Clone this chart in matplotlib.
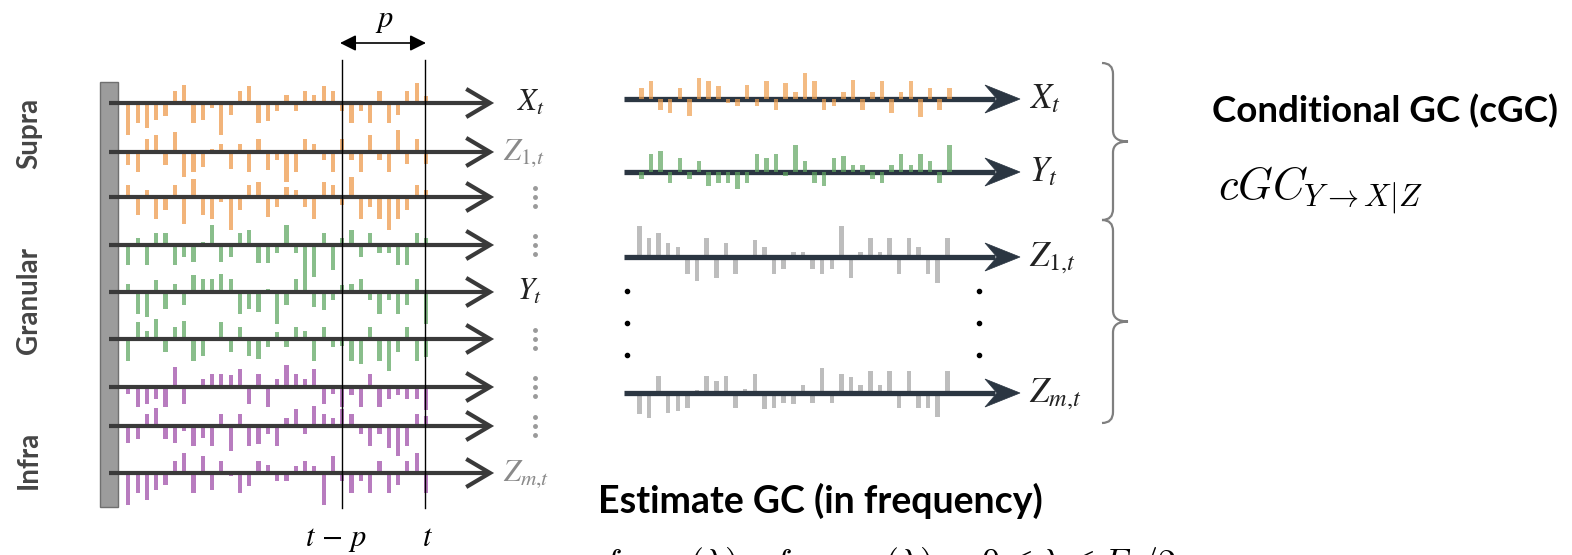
import numpy as np
import matplotlib.pyplot as plt
from matplotlib.path import Path
from matplotlib.patches import PathPatch, Rectangle, Polygon

# bar amplitudes for the laminar recordings (up = positive)
supra_x = [-95, -60, -75, -50, -40, 35, 55, -60, -50, -15, -95, -35, 35, 50, -60, -55, -25,
           25, -25, 35, 25, 50, 35, -25, -60, -25, -60, 35, -60, -35, 35, 60, 20]
supra_z1 = [-40, -60, 40, 50, -40, 60, -75, -60, -45, 10, 25, -50, 25, -60, 40, -55, -25,
            -90, -60, 40, 25, -25, -60, 40, -25, -60, 50, -25, -60, 65, -35, 40, -35]
supra_z2 = [35, -55, 20, -65, -40, 35, -80, 55, -55, -65, -15, -100, -40, 35, 45, -60, -30,
            30, 20, -30, -65, 45, 35, -25, 60, -65, -30, -65, -100, -65, -40, 35, 20]
gran_z3 = [-60, 20, -60, 35, 35, -60, -35, -50, 10, 60, -50, -35, 35, 45, -55, -55, -25,
           60, -25, -90, -95, 35, -75, 20, 45, -35, 35, -25, -25, -60, -60, 35, 20]
gran_y = [25, -65, -75, 35, -50, 25, -40, 50, 40, 40, 55, 40, -65, -50, -60, 10, -95,
          -40, 40, 55, -45, -55, -25, 20, 25, 40, -25, -65, -25, -65, -40, 40, -95]
gran_z4 = [-65, 50, 25, 60, -40, 35, 55, -65, -50, 5, 50, -40, 35, -50, -60, -25, 20,
           -25, 35, 25, -65, 35, -25, -20, -65, -75, 35, -65, -95, -40, 35, -65, -55]
infra_z5 = [-20, -60, -50, -35, -60, 60, -50, -5, 25, 40, 40, 35, 55, -50, 40, -60, 25,
            65, 40, 25, 55, -50, -20, -60, -25, -60, 40, -60, -35, -25, -35, -35, -70]
infra_z6 = [-50, -40, 35, 55, -40, -50, -15, -60, -35, -60, 35, -75, 35, -60, -55, -25, -60,
            25, 50, -25, 60, 35, 25, 50, 35, -25, -60, -25, -65, -90, -60, 35, 30]
infra_zm = [-95, -60, -80, -50, -35, 35, 60, -60, 50, -50, 35, -10, -60, -40, 35, 25, -25,
            -25, 20, 35, 20, -95, 50, -25, -60, -25, -60, 35, -60, -35, 35, 60, -60]

# the selected channels
sel_x = [33, 54, -33, -42, 33, -51, 63, 54, 39, -12, -21, 42, -21, 54, -33, 48, 21,
         78, 54, -33, -21, 21, 57, -33, 21, 54, -42, 21, 54, -54, 33, -33, 33]
sel_y = [-21, 54, 63, -33, 42, -21, 33, -42, -33, -33, -51, -33, 54, 42, 54, -12, 81,
         33, -33, -42, 42, 48, 21, 21, -21, -33, 21, 54, 21, 54, 33, -33, 81]
sel_z1 = [93, 57, 72, 42, 30, -51, -72, 57, -63, 42, -51, 0, 51, 30, -51, -36, 15,
          15, -36, -51, -36, 93, -63, 15, 57, 15, 57, -51, 57, 30, -51, -78, 57]
sel_zm = [-63, -75, 51, -60, -54, -45, 9, 51, 36, 51, -45, 12, 57, -48, -45, -30, -33,
          24, -30, 75, -30, 57, 48, 24, 66, 24, 66, -45, 66, -45, -45, -72, 66]

layer_names = ['Supra', 'Granular', 'Infra']
left_labels = [r'$X_t$', r'$Z_{1{,}t}$', None, None, r'$Y_t$', None, None, None, r'$Z_{m{,}t}$']
mid_labels = [r'$X_t$', r'$Y_t$', r'$Z_{1{,}t}$', r'$Z_{m{,}t}$']

W, H = 1572, 555
fig = plt.figure(figsize=(W / 100, H / 100), dpi=100)
ax = fig.add_axes([0, 0, 1, 1])
ax.set_xlim(0, W)
ax.set_ylim(H, 0)
ax.axis('off')

ORANGE, GREEN, PURPLE = '#F2B47A', '#89BE8B', '#B87CBF'
DARK = '#3A3A3A'
NAVY = '#2B3642'
scale = 1 / 3

# ---- left panel: all channels -------------------------------------------
ax.add_patch(Rectangle((100, 82), 18, 425, facecolor='#9C9C9C', edgecolor='#707070', lw=1, zorder=1))

left_series = [supra_x, supra_z1, supra_z2, gran_z3, gran_y, gran_z4, infra_z5, infra_z6, infra_zm]
left_colors = [ORANGE] * 3 + [GREEN] * 3 + [PURPLE] * 3
rows = [103, 152, 197, 245, 292, 339, 387, 426, 473]

for i, (vals, y, col) in enumerate(zip(left_series, rows, left_colors)):
    xs = 128.3 + 9.3 * np.arange(len(vals))
    ax.bar(xs, -np.array(vals) * scale, bottom=y, width=4.2, color=col, zorder=2)
    ax.plot([109, 488], [y, y], color=DARK, lw=3, zorder=3, solid_capstyle='butt')
    ax.plot([468, 490, 468], [y - 13, y, y + 13], color=DARK, lw=3, zorder=3,
            solid_joinstyle='miter')
    lab = left_labels[i]
    if lab is None:
        ax.plot([535] * 3, [y - 9, y, y + 9], 'o', color='#9A9A9A', ms=2.5, zorder=3)
    else:
        strong = lab in (r'$X_t$', r'$Y_t$')
        ax.text(517 if strong else 503, y + 8, lab, fontsize=22,
                color='#222222' if strong else '#8A8A8A',
                va='baseline', ha='left', math_fontfamily='stix')

for yc, name in zip([133, 300, 460], layer_names):
    ax.text(29, yc, name, rotation=90, fontfamily='Lato', fontweight='bold', fontsize=20,
            color='#454545', ha='center', va='center')

# lag window
for xv in (342, 425):
    ax.plot([xv, xv], [60, 508], color='black', lw=1, zorder=4)
ax.annotate('', xy=(340, 43), xytext=(426, 43),
            arrowprops=dict(arrowstyle='<|-|>', color='black', lw=1.2, mutation_scale=24,
                            shrinkA=0, shrinkB=0))
ax.text(384, 27, r'$p$', fontsize=22, ha='center', va='baseline', math_fontfamily='stix')
ax.text(336, 546, r'$t\,-\,p$', fontsize=22, ha='center', va='baseline', math_fontfamily='stix')
ax.text(428, 546, r'$t$', fontsize=22, ha='center', va='baseline', math_fontfamily='stix')

# ---- middle panel: selected channels -------------------------------------
mid_series = [sel_x, sel_y, sel_z1, sel_zm]
mid_rows = [99, 172, 257, 393]
mid_colors = ['#EF9F4F', '#5FA55F', '#BDBDBD', '#BDBDBD']

for i, (vals, y, col) in enumerate(zip(mid_series, mid_rows, mid_colors)):
    x0 = 641.3 if i < 2 else 639.3
    xs = x0 + 9.625 * np.arange(len(vals))
    ax.plot([624, 995], [y, y], color=NAVY, lw=3.8, zorder=3, solid_capstyle='butt')
    ax.add_patch(Polygon([(985, y - 14), (1020, y), (985, y + 14), (997, y)],
                         closed=True, facecolor=NAVY, edgecolor=NAVY, lw=0.5, zorder=3))
    if i < 2:
        ax.bar(xs, -np.array(vals) * scale, bottom=y, width=4.6, color=col, alpha=0.7, zorder=4)
    else:
        ax.bar(xs, -np.array(vals) * scale, bottom=y, width=4.6, color=col, zorder=2)
    ax.text(1029, y + 9, mid_labels[i], fontsize=25, color='#222222',
            va='baseline', ha='left', math_fontfamily='stix', zorder=4)

# the last label is cropped just before the brace
ax.add_patch(Rectangle((1083, 365), 17, 55, facecolor='white', edgecolor='none', zorder=5))

for xd in (627, 979):
    ax.plot([xd] * 3, [291, 323, 355], 'o', color='black', ms=3, zorder=3)


def brace(y0, y1, x0=1102, xv=1113, xt=1128, r=11):
    ym = (y0 + y1) / 2
    verts = [(x0, y0), (xv, y0), (xv, y0 + r),
             (xv, ym - r), (xv, ym), (xt, ym),
             (xv, ym), (xv, ym + r),
             (xv, y1 - r), (xv, y1), (x0, y1)]
    codes = [Path.MOVETO, Path.CURVE3, Path.CURVE3,
             Path.LINETO, Path.CURVE3, Path.CURVE3,
             Path.CURVE3, Path.CURVE3,
             Path.LINETO, Path.CURVE3, Path.CURVE3]
    ax.add_patch(PathPatch(Path(verts, codes), fill=False, edgecolor='#7F7F7F', lw=1.6, zorder=6))


brace(63, 220)
brace(220, 423)

# ---- text ---------------------------------------------------------------
ax.text(1212, 122, 'Conditional GC (cGC)', fontfamily='Lato', fontweight='bold',
        fontsize=26.5, va='baseline', ha='left', color='black')
ax.text(1218, 190, r'$cGC_{Y\rightarrow X|Z}$', fontsize=32, va='center', ha='left',
        math_fontfamily='cm')
ax.text(598, 513, 'Estimate GC (in frequency)', fontfamily='Lato', fontweight='bold',
        fontsize=27, va='baseline', ha='left', color='black')
ax.text(600, 574, r'$f_{Y\rightarrow X}(\lambda) \quad f_{Y\rightarrow X|Z}(\lambda), \quad 0\leq\lambda\leq F_s/2$',
        fontsize=26, va='baseline', ha='left', math_fontfamily='cm')

fig.savefig('out.png', dpi=100, facecolor='white')
